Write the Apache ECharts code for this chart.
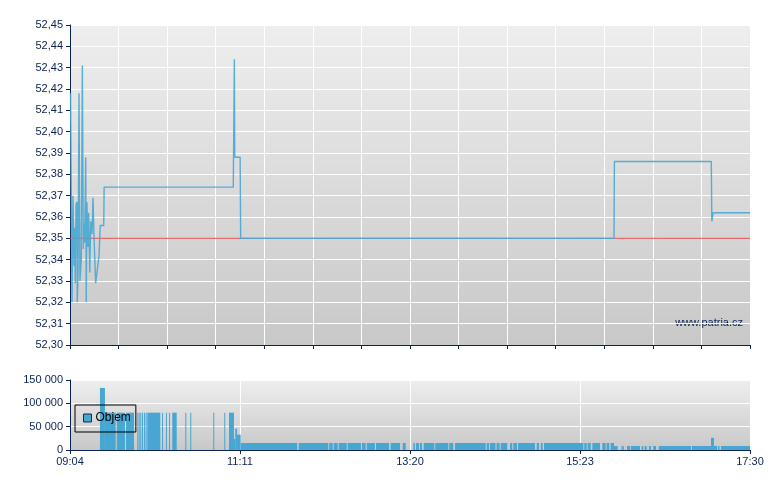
<!DOCTYPE html>
<html>
<head>
<meta charset="utf-8">
<script src="https://cdn.jsdelivr.net/npm/echarts@6/dist/echarts.min.js"></script>
<style>html,body{margin:0;padding:0;background:#fff}#c{width:780px;height:490px}</style>
</head>
<body>
<div id="c"></div>
<script>
// minutes after 09:04 (session 09:04 - 17:30 = 506 min)
const timeLabels = ['09:04', '11:11', '13:20', '15:23', '17:30'];
const priceTicks = [52.30, 52.45, 0.01];
const refPrice = 52.35;

const priceT = [0.4, 1.5, 2.2, 3.0, 3.5, 3.9, 4.5, 5.2, 5.4, 6.0, 6.7, 7.4, 8.4, 9.2, 9.9, 10.4, 10.9, 11.7, 12.1, 12.6,
  13.4, 13.9, 14.7, 15.4, 16.4, 17.1, 17.9, 18.4, 19.1, 20.3, 21.6, 22.5, 25.1, 25.4, 121.5, 122.3, 122.6, 126.6, 127.0,
  404.8, 405.1, 477.2, 477.6, 478.3, 478.6, 506];
const priceV = [52.418, 52.320, 52.370, 52.337, 52.355, 52.329, 52.366, 52.367, 52.320, 52.335, 52.418, 52.330, 52.340, 52.431,
  52.345, 52.357, 52.348, 52.388, 52.320, 52.367, 52.346, 52.362, 52.334, 52.358, 52.352, 52.369, 52.350, 52.341, 52.329,
  52.329, 52.342, 52.356, 52.356, 52.374, 52.374, 52.434, 52.388, 52.388, 52.350, 52.350, 52.386, 52.386, 52.358, 52.358,
  52.362, 52.362];

const volStart = [22.3, 26.0, 34.8, 41.7, 50.1, 51.1, 52.3, 53.6, 55.1, 56.3, 57.5, 68.5, 71.4, 73.7, 76.1, 85.8, 89.5, 106.6, 114.8, 118.3,
  122.0, 123.0, 124.3,
  127.0, 170.2, 192.9, 196.2, 199.9, 206.6, 217.3, 220.8, 227.7, 238.6, 247.6, 255.5, 257.5, 260.4, 263.2, 271.8, 282.2, 286.5,
  310.1, 312.5, 317.4, 320.5, 327.4, 329.9, 333.4, 347.3, 350.3, 352.7, 382.7, 385.2, 388.7, 396.1, 399.3, 402.3,
  404.8, 410.5, 414.5, 417.4, 425.4, 427.6, 430.8, 434.0, 438.1, 462.8, 477.0, 479.2, 482.2, 484.4];
const volEnd = [26.0, 34.0, 40.9, 47.6, 50.6, 51.6, 52.8, 54.1, 55.6, 56.8, 67.2, 69.0, 71.9, 74.2, 79.4, 86.3, 90.0, 107.1, 115.3, 122.0,
  123.0, 124.3, 127.0,
  169.1, 192.2, 195.5, 199.2, 205.9, 216.5, 220.0, 226.9, 237.4, 245.6, 249.8, 256.7, 259.7, 261.9, 271.1, 281.5, 285.2, 309.3,
  311.8, 316.6, 319.7, 325.4, 329.1, 332.6, 346.0, 349.0, 351.7, 382.0, 384.5, 387.5, 394.4, 398.6, 401.3, 404.8,
  407.5, 412.0, 416.7, 424.1, 426.6, 429.1, 432.3, 436.1, 462.1, 477.0, 479.2, 481.5, 483.3, 506];
const volValue = [133000, 80000, 80000, 80000, 80000, 80000, 80000, 80000, 80000, 80000, 80000, 80000, 80000, 80000, 80000, 80000, 80000, 80000, 80000, 80000,
  23500, 45700, 32900,
  15000, 15000, 15000, 15000, 15000, 15000, 15000, 15000, 15000, 15000, 15000, 15000, 15000, 15000, 15000, 15000, 15000, 15000,
  15000, 15000, 15000, 15000, 15000, 15000, 15000, 15000, 15000, 15000, 15000, 15000, 15000, 15000, 15000, 15000,
  8600, 8600, 8600, 8600, 8600, 8600, 8600, 8600, 8600, 8600, 26000, 8600, 8600, 8600];
const volTicks = [0, 150000, 50000];

const NAVY = '#0b2353';
const BLUE = '#47a6d2';
const FONT = 'Liberation Sans, Arial, sans-serif';
const grad = {type: 'linear', x: 0, y: 0, x2: 0, y2: 1, colorStops: [{offset: 0, color: '#eeeeee'}, {offset: 1, color: '#c8c8c8'}]};

const chart = echarts.init(document.getElementById('c'), null, {renderer: 'canvas'});
const priceData = priceT.map((t, i) => [t, priceV[i]]);
const volData = volStart.map((s, i) => [s, volEnd[i], volValue[i]]);

const axisLine = {show: true, lineStyle: {color: NAVY, width: 1}};
const axisTick = {show: true, length: 4, lineStyle: {color: NAVY}};
const label = {color: NAVY, fontSize: 11, fontFamily: FONT};
const split = {show: true, lineStyle: {color: '#ffffff', width: 1}};

chart.setOption({
  animation: false,
  backgroundColor: '#ffffff',
  grid: [
    {left: 70, top: 25, width: 680, height: 320, show: true, borderWidth: 0, backgroundColor: grad},
    {left: 70, top: 380, width: 680, height: 70, show: true, borderWidth: 0, backgroundColor: grad}
  ],
  xAxis: [
    {gridIndex: 0, type: 'value', min: 0, max: 506, interval: 506 / 14, axisLine, axisTick, axisLabel: {show: false}, splitLine: split},
    {gridIndex: 1, type: 'value', min: 0, max: 506, interval: 126.5, axisLine, axisTick,
      axisLabel: Object.assign({margin: 6, formatter: v => timeLabels[Math.round(v / 126.5)] || ''}, label), splitLine: split}
  ],
  yAxis: [
    {gridIndex: 0, type: 'value', min: priceTicks[0], max: priceTicks[1], interval: priceTicks[2], axisLine, axisTick,
      axisLabel: Object.assign({margin: 7, formatter: v => v.toFixed(2).replace('.', ',')}, label), splitLine: split},
    {gridIndex: 1, type: 'value', min: volTicks[0], max: volTicks[1], interval: volTicks[2], axisLine, axisTick,
      axisLabel: Object.assign({margin: 7, formatter: v => String(Math.round(v)).replace(/\B(?=(\d{3})+(?!\d))/g, ' ')}, label), splitLine: split}
  ],
  legend: {
    left: 75, top: 405, orient: 'horizontal', data: ['Objem'],
    borderColor: '#000', borderWidth: 1, padding: [7, 5, 8, 8],
    itemWidth: 8, itemHeight: 8, icon: 'rect', itemGap: 4,
    itemStyle: {borderColor: '#1a2a40', borderWidth: 1},
    textStyle: {color: '#000', fontSize: 12, fontFamily: FONT, padding: [2, 0, 0, -1]}
  },
  graphic: [{type: 'text', right: 37, top: 317, style: {text: 'www.patria.cz', fill: NAVY, font: '11px ' + FONT}}],
  series: [
    {name: 'ref', type: 'line', xAxisIndex: 0, yAxisIndex: 0, data: [[0, refPrice], [506, refPrice]], symbol: 'none',
      lineStyle: {color: '#e03a3a', width: 1, opacity: 0.9}, z: 2, silent: true},
    {name: 'Cena', type: 'line', xAxisIndex: 0, yAxisIndex: 0, data: priceData, symbol: 'none',
      lineStyle: {color: BLUE, width: 1.4, opacity: 0.9}, z: 3},
    {name: 'Objem', type: 'custom', xAxisIndex: 1, yAxisIndex: 1, data: volData, encode: {x: [0, 1], y: 2},
      itemStyle: {color: BLUE},
      renderItem: (params, api) => {
        const p0 = api.coord([api.value(0), api.value(2)]);
        const p1 = api.coord([api.value(1), 0]);
        return {type: 'rect', shape: {x: p0[0], y: p0[1], width: Math.max(p1[0] - p0[0], 1), height: p1[1] - p0[1]},
          style: {fill: BLUE}};
      }}
  ]
});
</script>
</body>
</html>
